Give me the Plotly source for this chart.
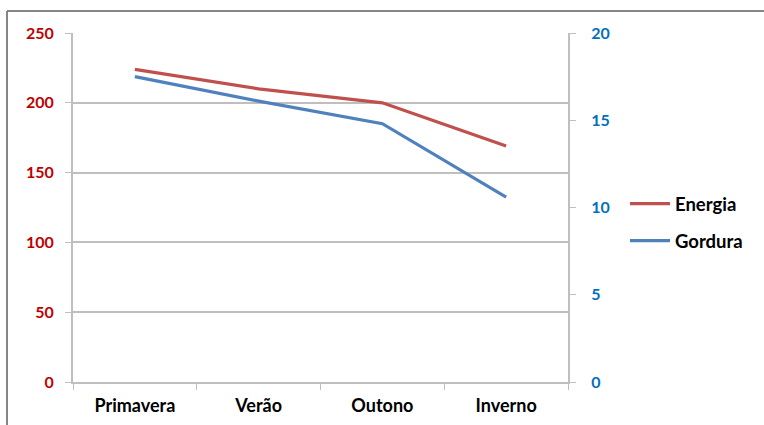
import plotly.graph_objects as go

# Seasonal values
estacoes = ["Primavera", "Verão", "Outono", "Inverno"]
energia = [224, 210, 200, 169]
gordura = [17.5, 16.1, 14.8, 10.6]

left_ticks = [0, 50, 100, 150, 200, 250]
right_ticks = [0, 5, 10, 15, 20]

W, H = 764, 425
L, R, T, B = 73, 196, 33, 43
pw, ph = W - L - R, H - T - B

font_family = "Lato, 'Open Sans', sans-serif"
grid_col = "#BFBFBF"

fig = go.Figure()
fig.add_trace(go.Scatter(
    x=estacoes, y=energia, name="<b>Energia</b>", mode="lines", legendgroup="e",
    line=dict(color="#C0504D", width=3.2), yaxis="y"))
fig.add_trace(go.Scatter(
    x=estacoes, y=gordura, name="<b>Gordura</b>", mode="lines", legendgroup="g",
    line=dict(color="#4F81BD", width=3.2), yaxis="y2"))

fig.update_layout(
    width=W, height=H,
    margin=dict(l=L, r=R, t=T, b=B, autoexpand=False),
    paper_bgcolor="white", plot_bgcolor="white",
    font=dict(family=font_family, size=15, color="black"),
    showlegend=True,
    legend=dict(x=(625 - L) / pw, y=(382 - 185) / ph, xanchor="left", yanchor="top",
                bgcolor="rgba(0,0,0,0)", tracegroupgap=10, itemwidth=40,
                font=dict(size=18.5, family=font_family, color="black")),
    xaxis=dict(
        type="category", range=[-0.5, 3.5], showgrid=False, showline=True,
        linecolor=grid_col, linewidth=2, automargin=False,
        ticks="outside", tickson="boundaries", ticklen=6, tickcolor=grid_col,
        tickfont=dict(size=18, family=font_family), ticklabelstandoff=6,
        tickvals=estacoes, ticktext=["<b>%s</b>" % s for s in estacoes],
        mirror=False, zeroline=False),
    yaxis=dict(
        range=[0, 250], tickvals=left_ticks, ticktext=["<b>%d</b>" % v for v in left_ticks],
        showgrid=True, gridcolor=grid_col, gridwidth=1.5, automargin=False,
        showline=True, linecolor=grid_col, linewidth=2,
        ticks="outside", ticklen=6, tickcolor=grid_col,
        tickfont=dict(size=16, color="#C00000", family=font_family), ticklabelstandoff=8,
        zeroline=False),
    yaxis2=dict(
        range=[0, 20], tickvals=right_ticks, ticktext=["<b>%d</b>" % v for v in right_ticks],
        overlaying="y", side="right", showgrid=False, automargin=False,
        showline=True, linecolor=grid_col, linewidth=2,
        ticks="outside", ticklen=6, tickcolor=grid_col,
        tickfont=dict(size=16, color="#0070C0", family=font_family), ticklabelstandoff=12,
        zeroline=False),
)

# Chart frame (top and left edges visible)
fig.add_shape(type="line", xref="paper", yref="paper",
              x0=(7 - L) / pw, x1=(W + 5 - L) / pw,
              y0=(382 - 11) / ph, y1=(382 - 11) / ph,
              line=dict(color="#868686", width=2))
fig.add_shape(type="line", xref="paper", yref="paper",
              x0=(7 - L) / pw, x1=(7 - L) / pw,
              y0=(382 - 11) / ph, y1=(382 - H - 5) / ph,
              line=dict(color="#868686", width=2))

fig.write_html("out.html")
